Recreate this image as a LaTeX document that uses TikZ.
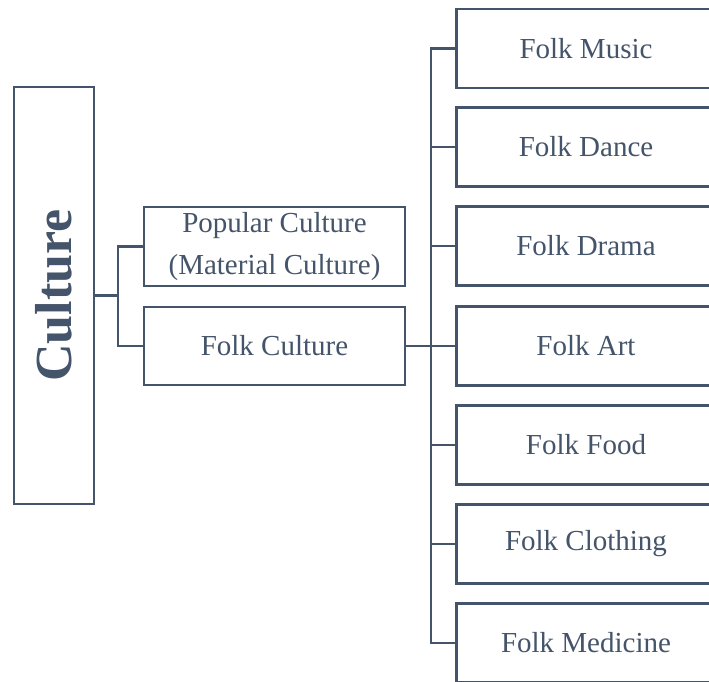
\documentclass[tikz,border=0pt]{standalone}
\usepackage{fontspec}
\setmainfont{Liberation Serif}
\definecolor{slate}{RGB}{68,84,106}
\begin{document}
\begin{tikzpicture}[x=1pt,y=-1pt,
  box/.style={draw=slate,line width=2.4pt,rectangle,inner sep=0pt,align=center,text=slate,font=\fontsize{29}{42}\selectfont},
  conn/.style={draw=slate,line width=2.4pt}]
\useasboundingbox (0,0) rectangle (709,682);
\fill[white] (0,0) rectangle (709,682);
\node[box,minimum width=80pt,minimum height=417pt] (culture) at (54,295.5)
  {\rotatebox{90}{\fontsize{52}{56}\selectfont\bfseries Culture}};
\node[box,minimum width=261pt,minimum height=79pt] (pop) at (274.5,246.5) {Popular Culture\\(Material Culture)};
\node[box,minimum width=261pt,minimum height=78pt] (folk) at (274.5,346) {Folk Culture};
\foreach \n/\y/\t in {music/48.5/Folk Music,dance/147/Folk Dance,drama/246/Folk Drama,art/346/Folk Art,food/445/Folk Food,clothing/544/Folk Clothing,medicine/643/Folk Medicine}{
  \node[box,minimum width=259pt,minimum height=79pt] (\n) at (586,\y) {\t};
}
\coordinate (j1) at (118,295.5);
\coordinate (j2) at (431,346);
\draw[conn] (culture.east) -- (j1);
\draw[conn] (j1) |- (pop.west);
\draw[conn] (j1) |- (folk.west);
\draw[conn] (folk.east) -- (j2);
\foreach \n in {music,dance,drama,art,food,clothing,medicine}{
  \draw[conn] (j2) |- (\n.west);
}
\end{tikzpicture}
\end{document}
